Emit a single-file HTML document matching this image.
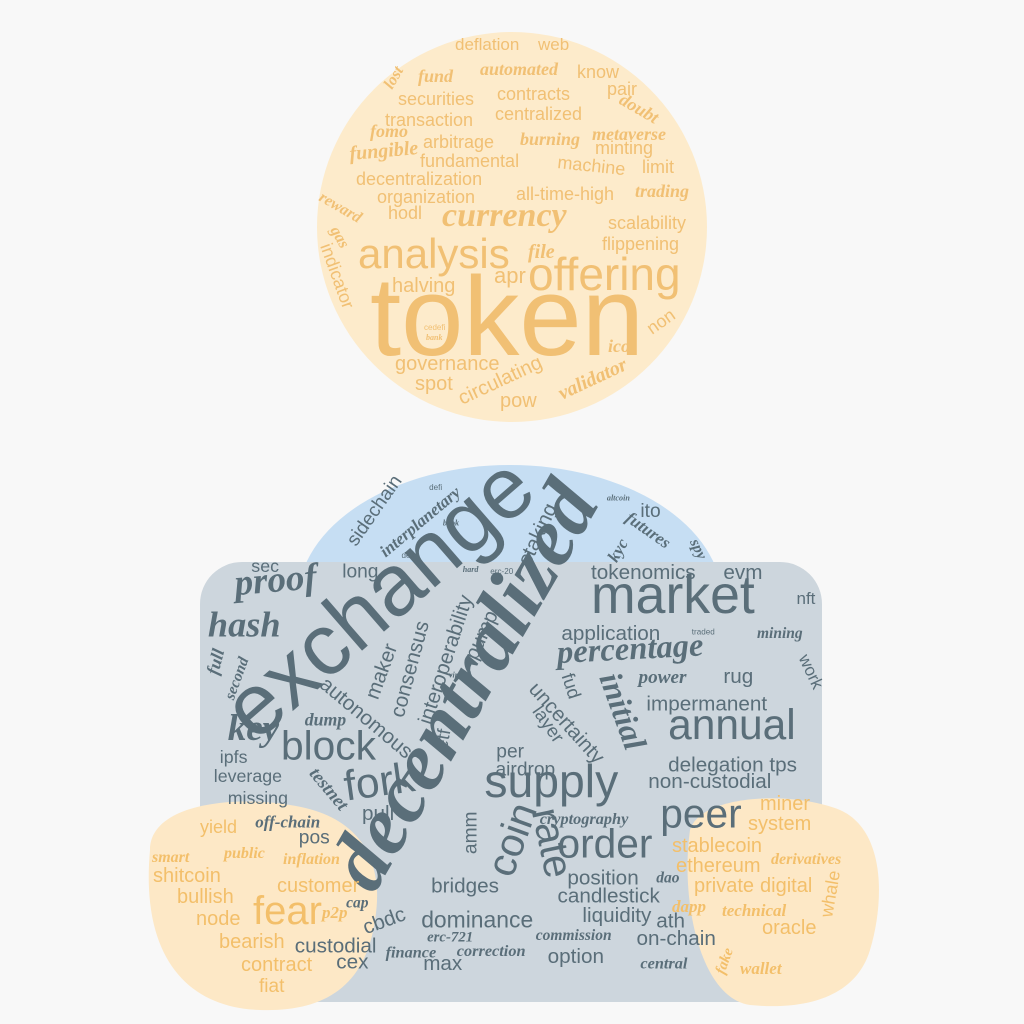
<!DOCTYPE html>
<html><head><meta charset="utf-8">
<style>
html,body{margin:0;padding:0;background:#f8f8f8;}
svg{display:block;}
text{font-family:"Liberation Sans",sans-serif;}
.s{font-family:"Liberation Serif",serif;font-style:italic;font-weight:bold;}
</style></head>
<body>
<svg id="cloud" width="1024" height="1024" viewBox="0 0 1024 1024" xmlns="http://www.w3.org/2000/svg">
<rect width="1024" height="1024" fill="#f8f8f8"/>
<circle cx="512" cy="227" r="195" fill="#fdebcb"/>
<ellipse cx="510" cy="600" rx="212" ry="135" fill="#c6def3"/>
<rect x="200" y="562" width="622" height="440" rx="42" fill="#cdd6dd"/>
<path d="M150,850 C150,805 230,795 290,805 C360,815 385,860 375,920 C365,990 320,1012 260,1010 C190,1008 140,960 150,850 Z" fill="#fde8c6"/>
<path d="M690,830 C700,795 790,790 840,810 C885,830 885,900 870,950 C855,1000 800,1010 750,1005 C700,998 680,900 690,830 Z" fill="#fde8c6"/>
<g id="words"></g>
</svg>
<script>
// head words: text, x, y, size, rotation, script(1)/plain(0)  (full-image coords)
const headWords = [
["deflation",455,50,17,0,0],["web",538,50,17,0,0],["lost",392,90,16,-60,1],["fund",418,82,18,0,1],
["automated",480,75,18,0,1],["know",577,78,18,0,0],["pair",607,95,18,0,0],["securities",398,105,18,0,0],
["contracts",497,100,18,0,0],["centralized",495,120,18,0,0],["doubt",618,103,18,30,1],["transaction",385,126,18,0,0],
["fomo",370,137,18,0,1],["metaverse",592,140,18,0,1],["fungible",350,160,20,-5,1],["arbitrage",423,148,18,0,0],
["burning",520,145,18,0,1],["minting",595,154,18,0,0],["fundamental",420,167,18,0,0],["machine",557,168,18,6,0],
["limit",642,173,18,0,0],["decentralization",356,185,18,0,0],["trading",635,197,18,0,1],["organization",377,203,18,0,0],
["all-time-high",516,200,18,0,0],["reward",318,200,16,30,1],["hodl",388,219,18,0,0],["currency",442,226,34,0,1],
["scalability",608,229,18,0,0],["flippening",602,250,18,0,0],["gas",330,230,16,60,1],["analysis",358,268,42,0,0],
["file",528,258,20,0,1],["indicator",320,246,18,70,0],["halving",392,292,20,0,0],["apr",494,283,22,0,0],
["offering",528,290,46,0,0],["token",370,355,112,0,0],["cedefi",424,330,8,0,0],["bank",426,340,8,0,1],
["non",652,335,18,-35,0],["ico",608,352,18,0,1],["governance",395,370,20,0,0],["spot",415,390,20,0,0],
["circulating",462,405,20,-25,0],["pow",500,407,20,0,0],["validator",562,400,20,-25,1]
];
// body words in zoom space: text, X, Y, size, rotation, script
const bodyWords = [
["sec",130,370,48,0,0],["long",360,385,52,0,0],["proof",90,435,100,-5,1],["hash",20,550,98,0,1],["full",45,660,48,-75,1],
["second",85,730,42,-70,1],["key",70,840,100,0,1],["block",205,895,110,0,0],["ipfs",50,905,48,0,0],["leverage",35,958,48,0,0],
["missing",70,1020,48,0,0],["dump",265,800,48,0,1],["autonomous",300,690,56,40,0],["maker",450,730,56,-70,0],
["consensus",515,780,56,-75,0],["interoperability",585,800,56,-72,0],["pump",700,620,56,-65,0],["etf",625,870,50,-80,0],
["virtual",630,665,22,0,1],["uncertainty",830,700,56,48,0],["fud",915,660,50,72,0],["layer",840,760,50,55,0],
["per",750,890,52,0,0],["airdrop",748,940,52,0,0],["fork",370,1010,115,-8,0],["testnet",275,935,50,50,1],
["supply",720,1000,125,0,0],["peer",1165,1085,110,0,0],["cryptography",860,1075,44,0,1],["order",905,1170,110,0,0],
["amm",700,1160,52,-90,0],["coin",790,1230,110,-70,0],["rate",840,1040,110,78,0],["off-chain",140,1085,46,0,1],
["pull",410,1065,56,0,0],["pos",250,1130,52,0,0],["position",930,1245,56,0,0],["dao",1155,1240,42,0,1],
["candlestick",905,1295,56,0,0],["liquidity",968,1350,56,0,0],["ath",1155,1365,56,0,0],["bridges",585,1268,56,0,0],
["dominance",560,1365,62,0,0],["cbdc",420,1385,56,-20,0],["cap",370,1310,42,0,1],["custodial",240,1435,56,0,0],
["finance",470,1450,44,0,1],["erc-721",575,1405,40,0,1],["correction",650,1445,44,0,1],["commission",850,1400,42,0,1],
["on-chain",1105,1415,56,0,0],["option",880,1465,56,0,0],["max",565,1485,56,0,0],["cex",345,1480,56,0,0],
["central",1115,1480,44,0,1],["market",990,485,145,0,0],["tokenomics",990,390,56,0,0],["evm",1325,390,56,0,0],
["nft",1510,460,46,0,0],["application",915,560,56,0,0],["traded",1245,545,22,0,0],["percentage",905,625,88,-3,1],
["mining",1410,555,42,0,1],["work",1515,610,46,65,0],["power",1110,680,52,0,1],["rug",1325,680,56,0,0],
["impermanent",1130,758,56,0,0],["annual",1185,838,115,0,0],["delegation tps",1185,928,56,0,0],
["non-custodial",1135,975,56,0,0],["initial",1010,665,88,70,1],
["exchange",140,850,235,-41,0],["decentralized",440,1275,225,-60,1],
["sidechain",395,300,52,-55,0],["interplanetary",470,330,46,-40,1],["defi",580,140,22,0,0],["book",615,240,22,0,1],
["dex",510,330,22,0,0],["hard",665,370,22,0,1],["erc-20",735,375,22,0,0],["staking",835,355,56,-65,0],
["altcoin",1030,170,22,0,1],["ito",1115,215,52,0,0],["futures",1075,225,46,35,1],["kyc",1055,345,46,-60,1],["spy",1240,285,42,65,1]
];
// hand words (full-image coords)
const handWords = [
["yield",200,833,18,0,0],["smart",152,862,16,0,1],["public",224,858,16,0,1],["inflation",283,864,16,0,1],
["shitcoin",153,882,20,0,0],["bullish",177,903,20,0,0],["customer",277,892,20,0,0],["fear",253,924,40,0,0],
["p2p",322,918,17,0,1],["node",196,925,20,0,0],["bearish",219,948,20,0,0],["contract",241,971,20,0,0],["fiat",259,992,19,0,0],
["miner",760,810,20,0,0],["system",748,830,20,0,0],["stablecoin",672,852,20,0,0],["derivatives",771,864,16,0,1],
["ethereum",676,872,20,0,0],["private",694,892,20,0,0],["digital",760,892,20,0,0],["dapp",672,912,17,0,1],
["technical",722,916,17,0,1],["oracle",762,934,20,0,0],["whale",832,918,18,-80,0],["fake",724,975,15,-70,1],["wallet",740,974,17,0,1]
];
const NS = "http://www.w3.org/2000/svg";
const g = document.getElementById("words");
function put(w, x, y, size, color, group) {
  const t = document.createElementNS(NS, "text");
  t.setAttribute("x", x);
  t.setAttribute("y", y);
  t.setAttribute("font-size", size);
  t.setAttribute("fill", color);
  if (w[4]) t.setAttribute("transform", "rotate(" + w[4] + " " + x + " " + y + ")");
  if (w[5]) t.setAttribute("class", "s");
  t.textContent = w[0];
  
  
  g.appendChild(t);
}
headWords.forEach(w => put(w, w[1], w[2], w[3], "#f1c074", "head"));
const KX = 0.395, KY = 0.357, KS = 0.37;
bodyWords.forEach(w => {
  put(w, (200 + w[1] * KX).toFixed(1), (440 + w[2] * KY).toFixed(1), (w[3] * KS).toFixed(1), "#5a6e79", "body");
});
handWords.forEach(w => put(w, w[1], w[2], w[3], "#f3bf6a", "hand"));
</script>
</body></html>
